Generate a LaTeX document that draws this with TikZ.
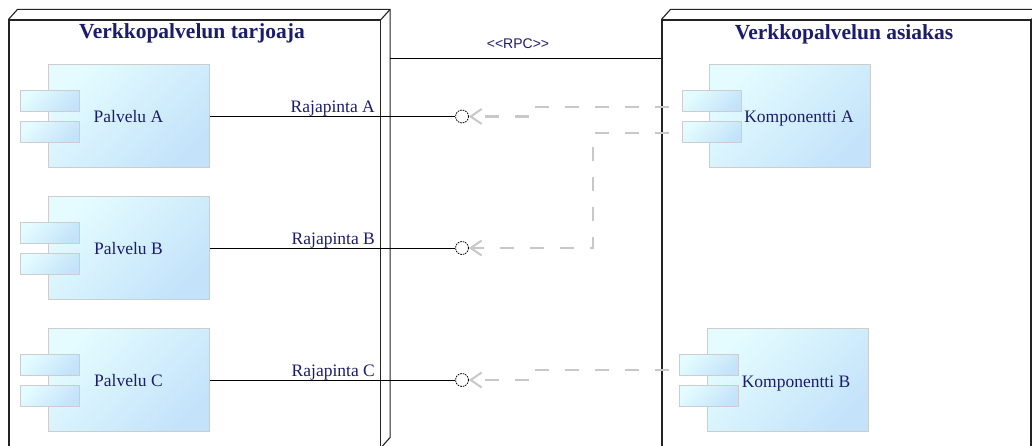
\documentclass[tikz,border=0pt]{standalone}
\usepackage{fontspec}
\setmainfont{Liberation Serif}
\newfontfamily\rpcfont{Liberation Sans}
\usetikzlibrary{arrows.meta,calc}
\definecolor{navy}{RGB}{28,28,110}
\definecolor{compTop}{RGB}{228,252,255}
\definecolor{compBot}{RGB}{196,227,250}
\definecolor{compEdge}{RGB}{205,205,205}
\definecolor{depGray}{RGB}{200,200,200}
\definecolor{frameCol}{RGB}{35,35,35}
\tikzset{
  frame/.style={draw=frameCol, line width=1.1pt, fill=white, inner sep=0pt},
  frameline/.style={draw=frameCol, line width=1.1pt},
  comp/.style={draw=compEdge, line width=1pt, top color=compTop, bottom color=compBot,
    shading angle=45, inner sep=0pt, minimum width=161pt, minimum height=103pt},
  port/.style={comp, minimum width=59pt, minimum height=21pt},
  iface/.style={circle, draw=black, line width=0.8pt, dash pattern=on 1.6pt off 1pt,
    minimum size=13pt, inner sep=0pt, fill=white},
  conn/.style={draw=black, line width=0.9pt},
  dep/.style={draw=depGray, line width=2.2pt, dash pattern=on 14pt off 16pt,
    -{Straight Barb[length=11pt, width=15pt, line width=2pt]}},
  lbl/.style={text=navy, font=\fontsize{17.5}{20}\selectfont, inner sep=0pt},
  title/.style={text=navy, font=\fontsize{21.5}{24}\selectfont\bfseries, inner sep=0pt},
  rpclbl/.style={text=navy, font=\rpcfont\fontsize{14}{16}\selectfont, inner sep=0pt}
}
\begin{document}
\begin{tikzpicture}[x=1pt,y=-1pt]
\useasboundingbox (0,0) rectangle (1032,446);
\clip (0,0) rectangle (1032,446);

% provider node (3D box)
\node[frame, minimum width=371.5pt, minimum height=427pt] (prov) at (194.75,233.5) {};
\draw[frameline] (prov.north west) -- ++(9,-10) -- ([shift={(9,-10)}]prov.north east)
  -- ([shift={(9,-10)}]prov.south east) -- (prov.south east);
\draw[frameline] (prov.north east) -- ++(9,-10);
\node[title, anchor=base] (provtitle) at (192,39) {Verkkopalvelun tarjoaja};

% consumer node (3D box)
\node[frame, minimum width=369pt, minimum height=440pt] (cons) at (846.5,240) {};
\draw[frameline] (cons.north west) -- ++(9,-10) -- ([shift={(9,-10)}]cons.north east)
  -- ([shift={(9,-10)}]cons.south east) -- (cons.south east);
\draw[frameline] (cons.north east) -- ++(9,-10);
\node[title, anchor=base] (constitle) at (844,39.5) {Verkkopalvelun asiakas};

% RPC link
\coordinate (rpcL) at (389.5,58.5);
\draw[conn] (rpcL) -- (cons.west |- rpcL);
\node[rpclbl, anchor=base] (rpc) at (518,49) {<{}<RPC>{}>};

% services
\foreach \n/\y in {a/116.5, b/248, c/380}{
  \node[comp] (p\n) at (128.5,\y) {};
  \node[port] (p\n1) at (49.5,\y-15) {};
  \node[port] (p\n2) at (49.5,\y+16) {};
  \node[iface] (i\n) at (462,\y) {};
}
\node[lbl, anchor=base] (pal) at (128.5,122.5) {Palvelu A};
\node[lbl, anchor=base] (pbl) at (128.5,254) {Palvelu B};
\node[lbl, anchor=base] (pcl) at (128.5,386.5) {Palvelu C};

\draw[conn] (pa.east) -- (ia.west);
\draw[conn] (pb.east) -- (ib.west);
\draw[conn] (pc.east) -- (ic.west);
\node[lbl, anchor=base east] (ral) at (375,112.5) {Rajapinta A};
\node[lbl, anchor=base east] (rbl) at (375,244) {Rajapinta B};
\node[lbl, anchor=base east] (rcl) at (375,376) {Rajapinta C};

% client components
\node[comp] (ka) at (790,116.5) {};
\node[port] (ka1p) at (711.5,101.5) {};
\node[port] (ka2p) at (711.5,132.5) {};
\node[lbl, anchor=base] (kal) at (799,122.5) {Komponentti A};

\node[comp] (kb) at (787.5,380) {};
\node[port] (kb1p) at (708.5,365) {};
\node[port] (kb2p) at (708.5,396) {};
\node[lbl, anchor=base] (kbl) at (796,387) {Komponentti B};

% dependencies
\coordinate (ka1) at (669,107);
\coordinate (ka2) at (669,133);
\coordinate (kb1) at (669,370);
\draw[dep] (ka1) -| (530,116.5) -- (ia.east);
\draw[dep] (ka2) -| (593,248) -- (ib.east);
\draw[dep] (kb1) -| (530,380) -- (ic.east);
\end{tikzpicture}
\end{document}
